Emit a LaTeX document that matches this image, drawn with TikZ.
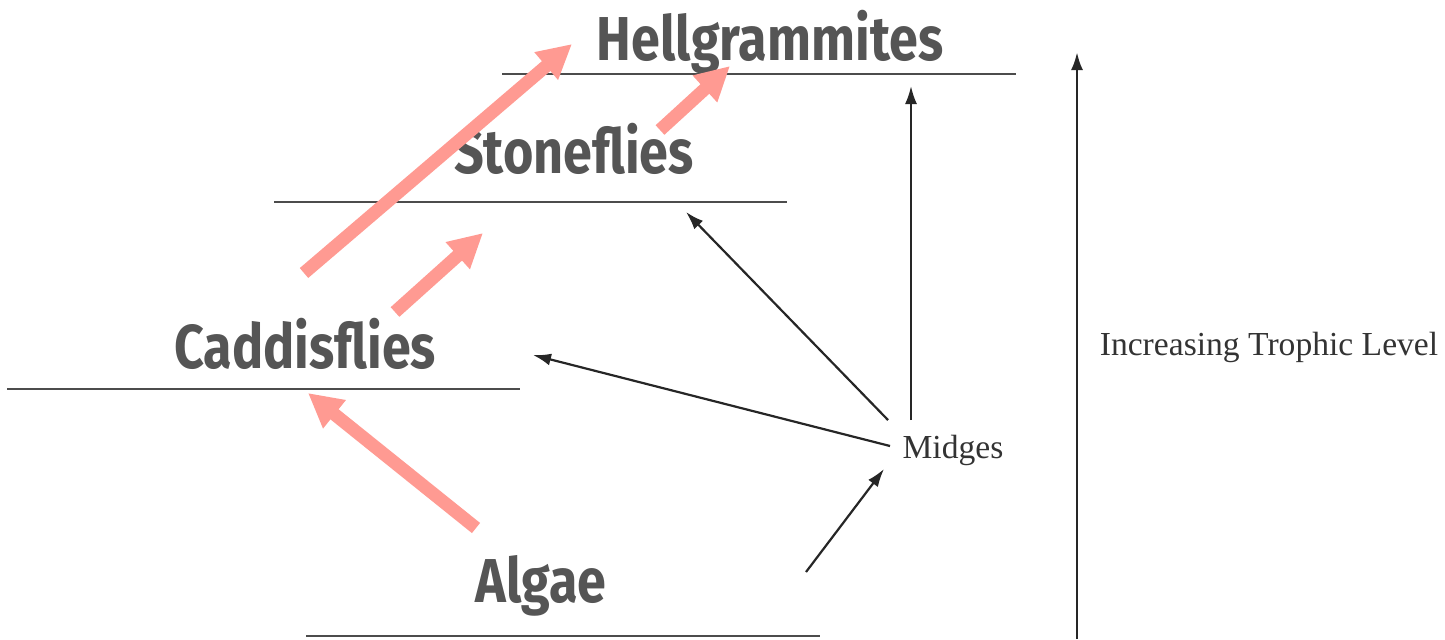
\documentclass[tikz,border=0pt]{standalone}
\usepackage{fontspec}
\setmainfont{Liberation Serif}
\newfontfamily\taxonfont[FakeStretch=0.84]{Fira Sans}
\usetikzlibrary{arrows.meta,positioning}
\definecolor{inkgray}{HTML}{555555}
\definecolor{salmon}{HTML}{FF9A92}
\tikzstyle{level}=[draw=black!70,line width=1.3pt]
\tikzstyle{taxon}=[font=\taxonfont\bfseries\fontsize{31}{31}\selectfont,
text=inkgray,inner sep=0pt,anchor=base]
\tikzstyle{plain}=[font=\fontsize{16.8}{16.8}\selectfont,text=black!80,
inner sep=0pt,anchor=base]
\tikzstyle{feeds}=[-{Triangle[length=17pt,width=17pt]},salmon,line width=6.5pt]
\tikzstyle{eats}=[-{Latex[length=9pt,width=6pt]},black!85,line width=1.1pt]

\begin{document}
\begin{tikzpicture}[x=0.5pt,y=-0.5pt]
            \useasboundingbox (0,0) rectangle (1445,639);

            % LEVEL LINES

            \draw[level] (502,74) -- (1016,74);
            \draw[level] (274,202) -- (787,202);
            \draw[level] (7,389) -- (520,389);
            \draw[level] (306,636) -- (820,636);

            % TAXA

            \node[taxon] (hell) at (770,60) {Hellgrammites};
            \node[taxon] (stone) at (574,173) {Stoneflies};
            \node[taxon] (caddis) at (305,368) {Caddisflies};
            \node[taxon] (algae) at (541,602) {Algae};
            \node[plain] (midges) at (953,458) {Midges};
            \node[plain] (trophic) at (1269,355) {Increasing Trophic Level};

            % Arrow ends

            \coordinate (a1) at (476,528);   \coordinate (c1) at (308,393);
            \coordinate (c2) at (395,312);   \coordinate (s1) at (483,233);
            \coordinate (c3) at (304,273);   \coordinate (h1) at (572,44);
            \coordinate (s2) at (660,130);   \coordinate (h2) at (730,66);
            \coordinate (m0) at (806,572);   \coordinate (m1) at (884,469);
            \coordinate (m2) at (890,446);   \coordinate (c4) at (533,355);
            \coordinate (m3) at (888,420);   \coordinate (s3) at (686,212);
            \coordinate (m4) at (911,420);   \coordinate (h3) at (911,86);
            \coordinate (t0) at (1077,639);  \coordinate (t1) at (1077,52);

            % PINK PART

            \path[feeds] (a1) edge (c1);
            \path[feeds] (c2) edge (s1);
            \path[feeds] (c3) edge (h1);
            \path[feeds] (s2) edge (h2);

            % MIDGES PART

            \path[eats] (m0) edge (m1);
            \path[eats] (m2) edge (c4);
            \path[eats] (m3) edge (s3);
            \path[eats] (m4) edge (h3);
            \path[eats,line width=1.4pt] (t0) edge (t1);

\end{tikzpicture}
\end{document}
